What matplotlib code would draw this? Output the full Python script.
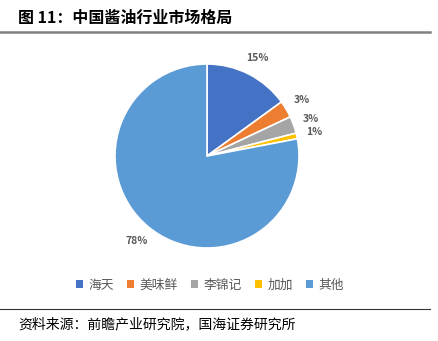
import matplotlib
matplotlib.use("Agg")
import matplotlib.pyplot as plt
from matplotlib.lines import Line2D
from matplotlib.patches import Patch

plt.rcParams['font.family'] = ['Noto Sans CJK SC', 'DejaVu Sans']

categories = ["海天", "美味鲜", "李锦记", "加加", "其他"]
values = [15, 3, 3, 1, 78]
colors = ["#4472C4", "#ED7D31", "#A5A5A5", "#FFC000", "#5B9BD5"]
title = "图 11：中国酱油行业市场格局"
source = "资料来源：前瞻产业研究院，国海证券研究所"

W, H = 438, 341
fig = plt.figure(figsize=(W / 100, H / 100), dpi=100)

cx, cy, r = 207, 156, 92
ax = fig.add_axes([(cx - r) / W, (H - cy - r) / H, 2 * r / W, 2 * r / H])
wedges, texts, autotexts = ax.pie(
    values, colors=colors, startangle=90, counterclock=False,
    autopct='%.0f%%', pctdistance=1.2, radius=1,
    wedgeprops=dict(edgecolor='white', linewidth=1.2),
    textprops=dict(fontsize=7.5, color='#595959', fontweight='bold'))
ax.set_aspect('equal')
ax.set_xlim(-1, 1)
ax.set_ylim(-1, 1)
ax.axis('off')

handles = [Patch(facecolor=c, edgecolor='none') for c in colors]
fig.legend(handles, categories, loc='center', bbox_to_anchor=(210 / W, 1 - 285 / H),
           ncol=5, frameon=False, fontsize=9.2, handlelength=0.55, handleheight=0.55,
           handletextpad=0.45, columnspacing=1.0, labelcolor='#595959')

fig.text(18 / W, 1 - 18 / H, title, fontsize=11.5, fontweight='bold', va='center', ha='left', color='#000000')
fig.add_artist(Line2D([0, 430 / W], [1 - 32 / H, 1 - 32 / H], color='#808080', linewidth=1.8))
fig.add_artist(Line2D([0, 430 / W], [1 - 309 / H, 1 - 309 / H], color='#333333', linewidth=0.8))
fig.text(18 / W, 1 - 324 / H, source, fontsize=10, va='center', ha='left', color='#000000')

fig.savefig("out.png", dpi=100)
